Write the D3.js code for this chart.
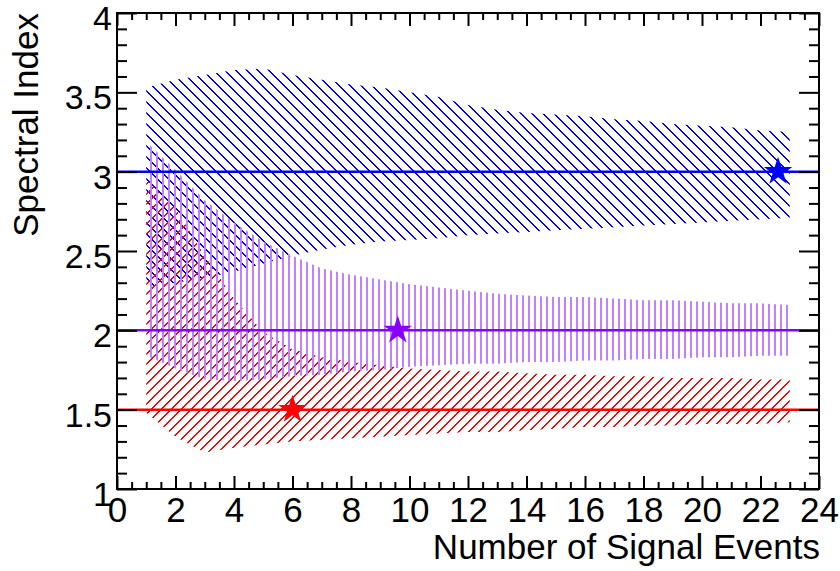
<!DOCTYPE html>
<html>
<head>
<meta charset="utf-8">
<script src="https://cdn.jsdelivr.net/npm/d3@7"></script>
<style>
  html, body { margin: 0; padding: 0; background: #fff; }
  svg { display: block; }
  text { font-family: "Liberation Sans", Arial, Helvetica, sans-serif; }
</style>
</head>
<body>
<div id="chart"></div>
<script>
// ---- data ----
const nSignal = [1, 2, 3, 4, 5, 6, 7, 8, 9, 10, 11, 12, 13, 14, 15, 16, 17, 18, 19, 20, 21, 22, 23];

const blueHi   = [3.53, 3.58, 3.61, 3.64, 3.65, 3.61, 3.58, 3.55, 3.53, 3.50, 3.47, 3.42, 3.39, 3.37, 3.36, 3.35, 3.33, 3.32, 3.30, 3.29, 3.28, 3.26, 3.25];
const blueLo   = [2.27, 2.30, 2.33, 2.37, 2.42, 2.47, 2.51, 2.54, 2.56, 2.57, 2.58, 2.60, 2.61, 2.62, 2.63, 2.64, 2.65, 2.66, 2.67, 2.68, 2.69, 2.70, 2.71];
const purpleHi = [3.19, 3.01, 2.82, 2.68, 2.56, 2.47, 2.39, 2.35, 2.32, 2.29, 2.27, 2.25, 2.23, 2.22, 2.21, 2.21, 2.20, 2.19, 2.19, 2.18, 2.17, 2.17, 2.16];
const purpleLo = [1.84, 1.76, 1.69, 1.68, 1.69, 1.71, 1.72, 1.74, 1.75, 1.77, 1.78, 1.79, 1.79, 1.80, 1.80, 1.81, 1.81, 1.82, 1.82, 1.83, 1.83, 1.84, 1.84];
const redHi    = [2.95, 2.77, 2.47, 2.20, 1.99, 1.88, 1.83, 1.80, 1.78, 1.76, 1.75, 1.74, 1.74, 1.73, 1.72, 1.72, 1.71, 1.71, 1.70, 1.70, 1.70, 1.69, 1.69];
const redLo    = [1.48, 1.33, 1.23, 1.26, 1.28, 1.30, 1.31, 1.32, 1.33, 1.34, 1.35, 1.36, 1.36, 1.37, 1.38, 1.39, 1.39, 1.40, 1.40, 1.41, 1.41, 1.41, 1.42];

const trueIndex = [3.0, 2.0, 1.5];          // horizontal reference lines
const starX     = [22.6, 9.6, 6.0];         // star markers (x)
const starY     = [3.0, 2.0, 1.5];          // star markers (y)

const xMajorTicks = [0, 2, 4, 6, 8, 10, 12, 14, 16, 18, 20, 22, 24];
const yMajorTicks = [1, 1.5, 2, 2.5, 3, 3.5, 4];
const yTickLabels = ["1", "1.5", "2", "2.5", "3", "3.5", "4"];

// ---- layout ----
const W = 840, H = 571;
const L = 117, R = 819, T = 13, B = 489;

const svg = d3.select("#chart").append("svg")
  .attr("width", W).attr("height", H)
  .attr("viewBox", `0 0 ${W} ${H}`);
svg.append("rect").attr("width", W).attr("height", H).attr("fill", "#fff");

const x = d3.scaleLinear().domain([0, 24]).range([L, R]);
const y = d3.scaleLinear().domain([1, 4]).range([B, T]);

// ---- hatch patterns (pixel staircase lines drawn with fills) ----
const defs = svg.append("defs");
function diagPattern(id, color, s, back) {
  const p = defs.append("pattern").attr("id", id)
    .attr("patternUnits", "userSpaceOnUse").attr("width", s).attr("height", s);
  const g = p.append("g").attr("fill", color).attr("shape-rendering", "crispEdges");
  d3.range(s).forEach(i => {
    const yy = back ? i : s - 1 - i;
    g.append("rect").attr("x", i).attr("y", yy).attr("width", 2).attr("height", 1);
    if (i === s - 1) {
      // wrap the second pixel of the last row to the tile start
      g.append("rect").attr("x", -1).attr("y", yy).attr("width", 1).attr("height", 1);
      g.append("rect").attr("x", 0).attr("y", yy).attr("width", 0).attr("height", 0);
    }
  });
  // wrapped pixel for seamless tiling
  const yw = back ? s - 1 : 0;
  g.append("rect").attr("x", 0).attr("y", yw).attr("width", 1).attr("height", 1);
}
diagPattern("hBlue", "#0000ff", 11, true);
diagPattern("hRed", "#ff0000", 10, false);

const pPur = defs.append("pattern").attr("id", "hPur")
  .attr("patternUnits", "userSpaceOnUse").attr("width", 6).attr("height", 6);
pPur.append("rect").attr("x", 0).attr("y", 0).attr("width", 2).attr("height", 6)
  .attr("fill", "#c080ff").attr("shape-rendering", "crispEdges");

// ---- bands ----
function bandData(lo, hi) {
  return nSignal.map((n, i) => ({ n, lo: lo[i], hi: hi[i] }));
}
const area = d3.area().x(d => x(d.n)).y0(d => y(d.lo)).y1(d => y(d.hi));

const bands = [
  { data: bandData(blueLo, blueHi), fill: "url(#hBlue)" },
  { data: bandData(redLo, redHi), fill: "url(#hRed)" },
  { data: bandData(purpleLo, purpleHi), fill: "url(#hPur)" }
];
svg.append("g").selectAll("path").data(bands).join("path")
  .attr("d", d => area(d.data))
  .attr("fill", d => d.fill)
  .attr("stroke", "none");

// ---- reference lines ----
const lineColors = ["#0000ff", "#8800ff", "#ff0000"];
svg.append("g").selectAll("line").data(trueIndex).join("line")
  .attr("x1", x(0)).attr("x2", x(24))
  .attr("y1", d => y(d)).attr("y2", d => y(d))
  .attr("stroke", (d, i) => lineColors[i])
  .attr("stroke-width", 2.5);

// ---- stars ----
const star = d3.symbol().type(d3.symbolStar).size(250);
svg.append("g").selectAll("path").data(starX).join("path")
  .attr("transform", (d, i) => `translate(${x(d)},${y(starY[i])})`)
  .attr("d", star)
  .attr("fill", (d, i) => lineColors[i]);

// ---- axes ----
const xMinor = d3.range(0, 24.001, 0.5).filter(v => Math.abs(v / 2 - Math.round(v / 2)) > 1e-6);
const yMinor = d3.range(1, 4.001, 0.1).filter(v => Math.abs(v * 2 - Math.round(v * 2)) > 1e-6);

function styleAxis(g) {
  g.select(".domain").remove();
  g.selectAll(".tick line").attr("stroke", "#000").attr("stroke-width", 2);
}

// bottom
const gB = svg.append("g").attr("transform", `translate(0,${B})`)
  .call(d3.axisBottom(x).tickValues(xMajorTicks).tickSize(-13).tickFormat(d3.format("d")))
  .call(styleAxis);
gB.selectAll("text").attr("y", 33).attr("dy", 0)
  .attr("font-size", 35).attr("fill", "#000")
  .attr("font-family", "'Liberation Sans', Arial, sans-serif");
svg.append("g").attr("transform", `translate(0,${B})`)
  .call(d3.axisBottom(x).tickValues(xMinor).tickSize(-7).tickFormat(""))
  .call(styleAxis);
// top
svg.append("g").attr("transform", `translate(0,${T})`)
  .call(d3.axisTop(x).tickValues(xMajorTicks).tickSize(-13).tickFormat(""))
  .call(styleAxis);
svg.append("g").attr("transform", `translate(0,${T})`)
  .call(d3.axisTop(x).tickValues(xMinor).tickSize(-7).tickFormat(""))
  .call(styleAxis);
// left
const gL = svg.append("g").attr("transform", `translate(${L},0)`)
  .call(d3.axisLeft(y).tickValues(yMajorTicks).tickSize(-20)
    .tickFormat((d, i) => yTickLabels[i]))
  .call(styleAxis);
gL.selectAll("text").attr("x", -5).attr("dy", 0).attr("y", 16.5)
  .attr("font-size", 34).attr("fill", "#000")
  .attr("font-family", "'Liberation Sans', Arial, sans-serif");
svg.append("g").attr("transform", `translate(${L},0)`)
  .call(d3.axisLeft(y).tickValues(yMinor).tickSize(-10).tickFormat(""))
  .call(styleAxis);
// right
svg.append("g").attr("transform", `translate(${R},0)`)
  .call(d3.axisRight(y).tickValues(yMajorTicks).tickSize(-20).tickFormat(""))
  .call(styleAxis);
svg.append("g").attr("transform", `translate(${R},0)`)
  .call(d3.axisRight(y).tickValues(yMinor).tickSize(-10).tickFormat(""))
  .call(styleAxis);

// frame
svg.append("rect")
  .attr("x", L).attr("y", T).attr("width", R - L).attr("height", B - T)
  .attr("fill", "none").attr("stroke", "#000").attr("stroke-width", 2);

// ---- titles ----
svg.append("text")
  .attr("x", 820).attr("y", 559)
  .attr("text-anchor", "end")
  .attr("font-size", 35).attr("fill", "#000")
  .text("Number of Signal Events");

svg.append("text")
  .attr("transform", `translate(38,${T}) rotate(-90)`)
  .attr("text-anchor", "end")
  .attr("font-size", 35).attr("fill", "#000")
  .text("Spectral Index");
</script>
</body>
</html>
